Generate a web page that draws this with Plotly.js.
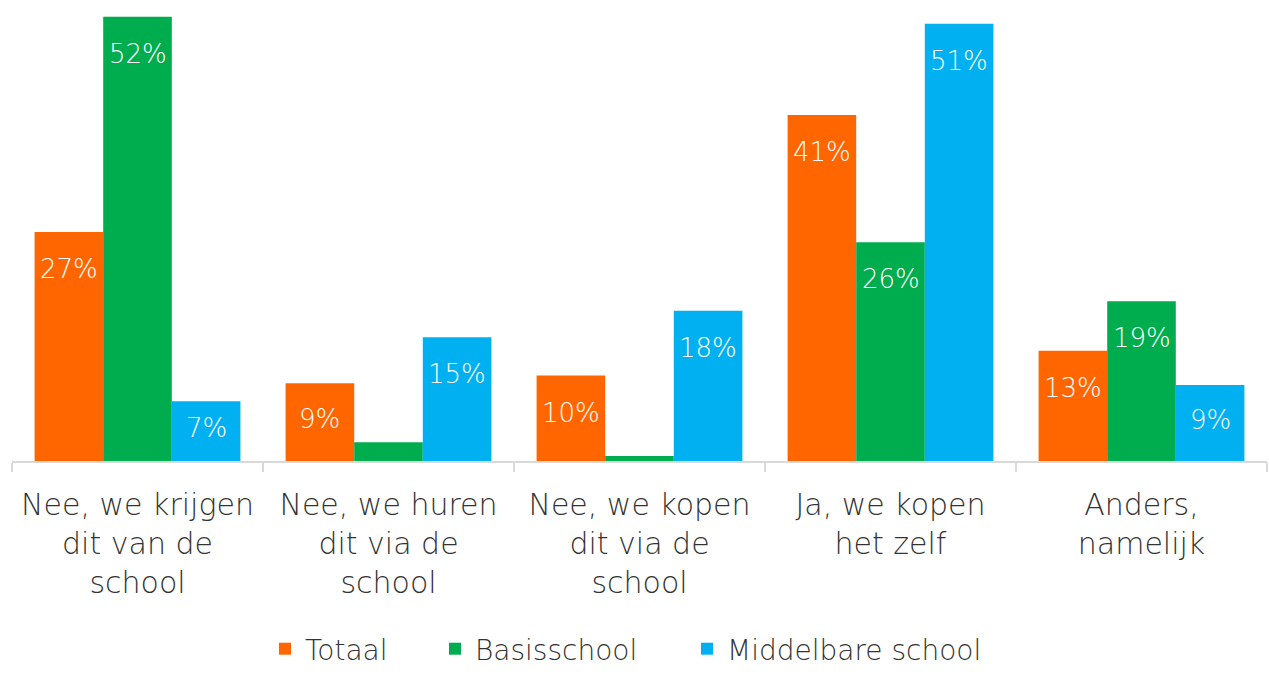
<!DOCTYPE html>
<html>
<head>
<meta charset="utf-8">
<script src="https://cdn.plot.ly/plotly-3.0.1.min.js"></script>
<style>
  html, body { margin: 0; padding: 0; background: #fff; }
  #chart { width: 1269px; height: 674px; }
</style>
</head>
<body>
<div id="chart"></div>
<script>
// Categories (x axis) and values in percent per group
const categories = [
    'Nee, we krijgen<br>dit van de<br>school',
    'Nee, we huren<br>dit via de<br>school',
    'Nee, we kopen<br>dit via de<br>school',
    'Ja, we kopen<br>het zelf',
    'Anders,<br>namelijk'
];
const totaal = [26.8, 9.1, 10.0, 40.5, 12.9];
const basisschool = [52.0, 2.2, 0.6, 25.6, 18.7];
const middelbare = [7.0, 14.5, 17.6, 51.2, 8.9];

const seriesNames = ['Totaal', 'Basisschool', 'Middelbare school'];
const seriesColors = ['#FF6600', '#00AD4E', '#00B0F0'];
const seriesValues = [totaal, basisschool, middelbare];

const W = 1269, H = 674;
const margin = { l: 12, r: 2, t: 10, b: 213 };
const yMax = 52.8;
const bargap = 0.18;
const labelFont = '"DejaVu Sans", sans-serif';

// one legend per series so the entries can be spaced like the original
const legendIds = ['legend', 'legend2', 'legend3'];
const legendLeft = [265, 435, 687];

const traces = seriesValues.map((vals, i) => ({
    type: 'bar',
    name: seriesNames[i],
    x: categories,
    y: vals,
    legend: legendIds[i],
    marker: { color: seriesColors[i], line: { width: 0 } },
    hoverinfo: 'skip'
}));

// value labels, drawn inside the top of each bar (small bars have none)
const plotW = W - margin.l - margin.r;
const plotH = H - margin.t - margin.b;
const barPx = plotW / categories.length * (1 - bargap) / seriesValues.length;
const pxPerUnit = plotH / yMax;
const annotations = [];
seriesValues.forEach((vals, i) => {
    vals.forEach((v, j) => {
        if (v < 5) return;
        const barH = v * pxPerUnit;
        annotations.push({
            x: categories[j],
            y: v,
            xref: 'x',
            yref: 'y',
            text: Math.round(v) + '%',
            showarrow: false,
            xshift: (i - 1) * barPx,
            yshift: -Math.min(37, barH / 2 - 3),
            yanchor: 'middle',
            font: { family: labelFont, size: 26, weight: 200, color: '#FFFFFF' }
        });
    });
});

const layout = {
    width: W,
    height: H,
    margin: margin,
    paper_bgcolor: '#FFFFFF',
    plot_bgcolor: '#FFFFFF',
    barmode: 'group',
    bargap: bargap,
    bargroupgap: 0,
    font: { family: labelFont, color: '#333333' },
    xaxis: {
        type: 'category',
        automargin: false,
        tickson: 'boundaries',
        ticks: 'outside',
        ticklen: 9,
        tickwidth: 2,
        tickcolor: '#D9D9D9',
        showline: true,
        linecolor: '#D9D9D9',
        linewidth: 2,
        showgrid: false,
        ticklabelstandoff: 16,
        tickfont: { family: labelFont, size: 30, weight: 200, color: '#333333' }
    },
    yaxis: {
        range: [0, yMax],
        visible: false,
        showgrid: false,
        zeroline: false
    },
    showlegend: true,
    annotations: annotations
};

legendIds.forEach((id, i) => {
    layout[id] = {
        orientation: 'h',
        x: legendLeft[i] / W,
        xanchor: 'left',
        xref: 'container',
        y: 0,
        yanchor: 'bottom',
        yref: 'container',
        bgcolor: 'rgba(0,0,0,0)',
        borderwidth: 0,
        font: { family: labelFont, size: 28, weight: 200, color: '#333333' },
        itemclick: false
    };
});

Plotly.newPlot('chart', traces, layout, { displayModeBar: false, staticPlot: true });
</script>
</body>
</html>
